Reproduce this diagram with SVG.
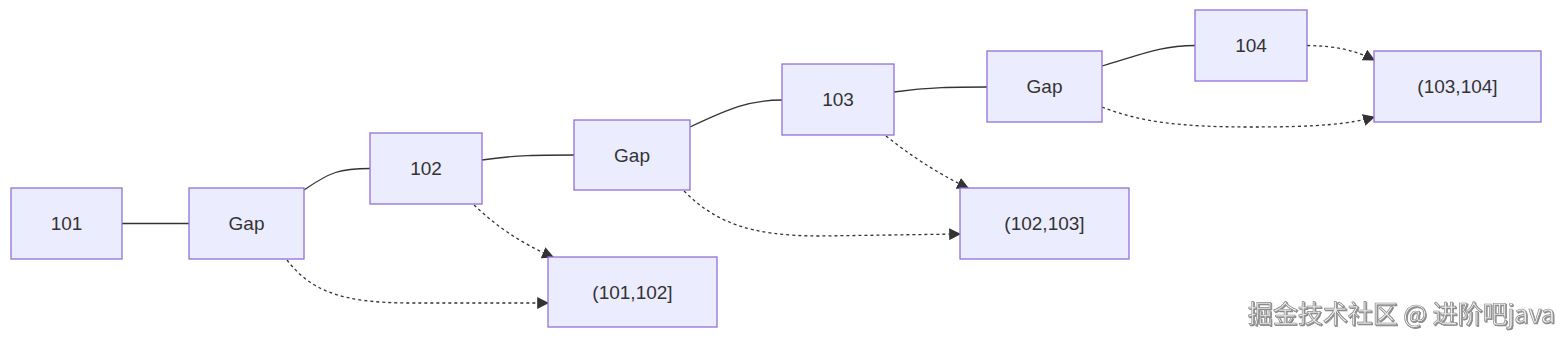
<svg xmlns="http://www.w3.org/2000/svg" width="1568" height="342" viewBox="0 0 1568 342">
<style>
.node rect{fill:#ECECFF;stroke:#9370DB;stroke-width:1.3}
.node text{font-family:"Liberation Sans",Arial,sans-serif;font-size:19px;fill:#333;text-anchor:middle;dominant-baseline:central}
.edge{fill:none;stroke:#333;stroke-width:1.3}
.dot{fill:none;stroke:#333;stroke-width:1.3;stroke-dasharray:3 3}
.wm{font-family:"Noto Sans CJK SC",sans-serif;font-size:25px;fill:#eeeeee;stroke:#8a8a8a;stroke-width:0.7;text-anchor:end}
</style>
<defs>
<marker id="arr" viewBox="0 0 10 10" refX="9" refY="5" markerUnits="userSpaceOnUse" markerWidth="12" markerHeight="12" orient="auto">
<path d="M0,0 L10,5 L0,10 z" fill="#333"/>
</marker>
<filter id="sh" x="-5%" y="-20%" width="110%" height="140%">
<feDropShadow dx="1" dy="1" stdDeviation="0.6" flood-color="#555" flood-opacity="0.7"/>
</filter>
</defs>
<rect width="1568" height="342" fill="#ffffff"/>
<g id="connectors">
<path class="edge" d="M122,223.5 L189,223.5"/>
<path class="edge" d="M304,190 C330,172 340,168.5 370,168.5"/>
<path class="edge" d="M482,160 C515,155 540,155 574,155"/>
<path class="edge" d="M690,127 C730,108 750,100 782,100"/>
<path class="edge" d="M894,92 C930,87 955,87 987,87"/>
<path class="edge" d="M1102,66 C1140,55 1160,45.5 1195,45.5"/>
<path class="dot" marker-end="url(#arr)" d="M287,260 C310,290 340,303 410,303 L548,303"/>
<path class="dot" marker-end="url(#arr)" d="M474,205 C495,225 520,243 553,257"/>
<path class="dot" marker-end="url(#arr)" d="M684,191 C715,222 750,236 820,236 L960,234"/>
<path class="dot" marker-end="url(#arr)" d="M886,136 C910,155 935,172 968,188"/>
<path class="dot" marker-end="url(#arr)" d="M1307,45.5 C1335,46 1355,50 1374,60"/>
<path class="dot" marker-end="url(#arr)" d="M1102,107 C1140,122 1180,127 1250,127 C1320,127 1350,124 1374,117"/>
</g>
<g id="n101" class="node"><rect x="11" y="188" width="111" height="71"/><text x="66.5" y="223.5">101</text></g>
<g id="gap1" class="node"><rect x="189" y="188" width="115" height="71"/><text x="246.5" y="223.5">Gap</text></g>
<g id="n102" class="node"><rect x="370" y="133" width="112" height="71"/><text x="426" y="168.5">102</text></g>
<g id="r101_102" class="node"><rect x="548" y="257" width="169" height="70"/><text x="632.5" y="292">(101,102]</text></g>
<g id="gap2" class="node"><rect x="574" y="120" width="116" height="70"/><text x="632" y="155">Gap</text></g>
<g id="n103" class="node"><rect x="782" y="64" width="112" height="71"/><text x="838" y="99.5">103</text></g>
<g id="r102_103" class="node"><rect x="960" y="188" width="169" height="71"/><text x="1044.5" y="223.5">(102,103]</text></g>
<g id="gap3" class="node"><rect x="987" y="51" width="115" height="71"/><text x="1044.5" y="86.5">Gap</text></g>
<g id="n104" class="node"><rect x="1195" y="10" width="112" height="71"/><text x="1251" y="45.5">104</text></g>
<g id="r103_104" class="node"><rect x="1374" y="51" width="167" height="71"/><text x="1457.5" y="86.5">(103,104]</text></g>
<text class="wm" x="1555" y="323" filter="url(#sh)">掘金技术社区 @ 进阶吧java</text>
</svg>
